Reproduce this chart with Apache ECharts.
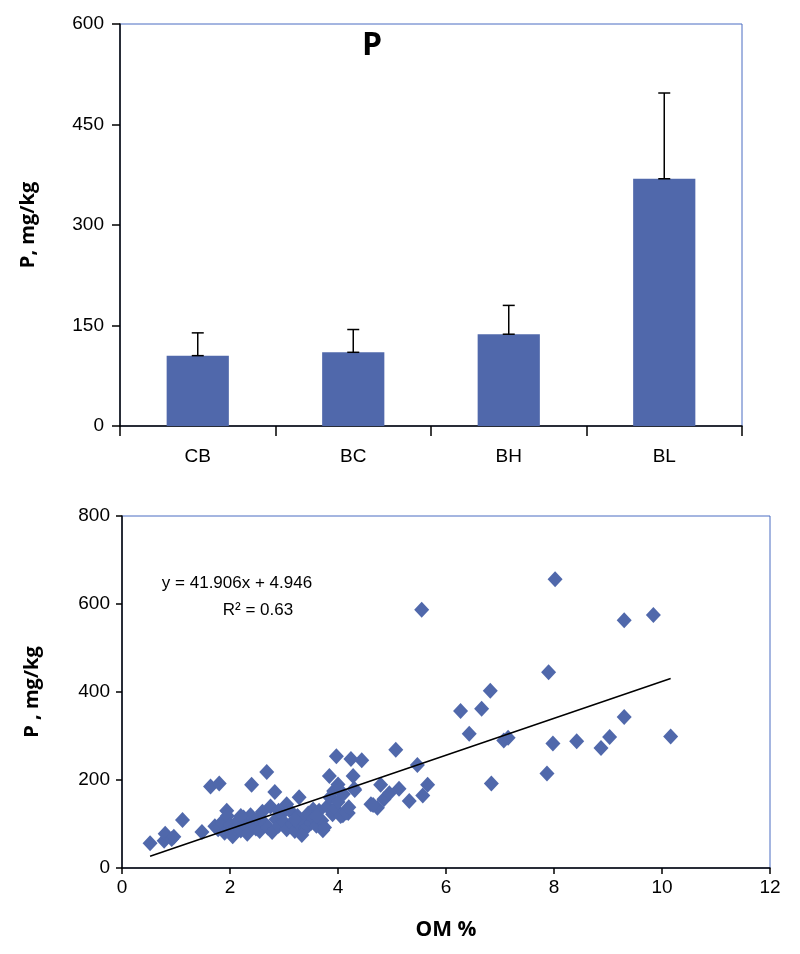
<!DOCTYPE html>
<html>
<head>
<meta charset="utf-8">
<script src="https://cdn.jsdelivr.net/npm/echarts@6/dist/echarts.min.js"></script>
<style>
html,body{margin:0;padding:0;background:#fff;}
#c{width:800px;height:954px;}
</style>
</head>
<body>
<div id="c"></div>
<script>
// ---- Bar chart data ----
const sites = ['CB', 'BC', 'BH', 'BL'];
const meanP = [105, 110, 137, 369];
const errP = [34, 34, 43, 128];
const barTicks = [0, 150, 300, 450, 600];

// ---- Scatter data (OM %, P mg/kg) ----
const omPct = [
  0.52, 0.78, 0.80, 0.92, 0.96, 1.12, 1.48, 1.64, 1.80, 2.40, 2.68, 2.83, 1.94, 3.28, 3.05,
  3.84, 3.97, 4.24, 4.44, 4.28, 5.07, 5.47, 5.55, 5.66, 5.57, 5.32, 5.13, 4.79, 4.61, 4.73,
  4.85, 4.95, 6.27, 6.43, 6.66, 6.82, 7.07, 7.15, 6.84, 8.02, 7.90, 7.98, 7.87, 8.42, 8.87,
  9.03, 9.30, 9.84, 9.30, 10.16, 4.31, 4.19, 4.09, 3.72, 3.54, 4.65,
  1.72, 1.78, 1.85, 1.90, 1.95, 2.00, 2.05, 2.10, 2.15, 2.20, 2.25, 2.30, 2.32, 2.38, 2.42,
  2.48, 2.50, 2.55, 2.60, 2.65, 2.70, 2.75, 2.78, 2.85, 2.90, 2.95, 3.00, 3.05, 3.10, 3.15,
  3.20, 3.25, 3.30, 3.35, 3.40, 3.45, 3.50, 3.55, 3.60, 3.65, 3.70, 3.75, 3.80, 3.85, 3.90,
  3.95, 4.00, 4.05, 4.10, 4.15, 4.20, 4.30, 3.92, 4.00, 3.60, 3.20, 2.90, 2.20, 3.33
];
const pMgKg = [
  56, 62, 78, 66, 71, 109, 82, 185, 192, 189, 218, 173, 130, 161, 145,
  209, 254, 248, 245, 209, 269, 234, 587, 189, 165, 152, 180, 189, 145, 137,
  156, 170, 357, 305, 362, 403, 290, 296, 192, 656, 445, 283, 215, 288, 273,
  298, 563, 575, 343, 299, 177, 125, 120, 86, 133, 143,
  95, 88, 104, 80, 118, 98, 72, 90, 108, 85, 115, 96, 78, 120, 102,
  90, 112, 84, 128, 100, 92, 140, 82, 110, 96, 122, 104, 88, 132, 100,
  84, 118, 95, 106, 90, 124, 102, 112, 96, 130, 108, 92, 140, 160, 122,
  135, 150, 118, 168, 126, 138, 180, 175, 190, 118, 110, 130, 118, 75
];
const trendSlope = 41.906;
const trendIntercept = 4.946;
const trendRange = [0.52, 10.16];
const omTicks = [0, 2, 4, 6, 8, 10, 12];
const pTicks = [0, 200, 400, 600, 800];

const scatterData = omPct.map((x, i) => [x, pMgKg[i]]);
const trendData = trendRange.map(x => [x, trendSlope * x + trendIntercept]);
const errData = sites.map((s, i) => [i, meanP[i], meanP[i] + errP[i]]);

const FONT = '"Liberation Sans", sans-serif';
const BOLD = '"Open Sans", "Liberation Sans", sans-serif';
const BLUE = '#5068ab';
const BORDER = '#4a6cc2';

const chart = echarts.init(document.getElementById('c'), null, {renderer: 'canvas'});
chart.setOption({
  backgroundColor: '#ffffff',
  animation: false,
  grid: [
    {left: 120, right: 58, top: 24, bottom: 528, show: true, borderColor: BORDER, borderWidth: 1},
    {left: 122, right: 30, top: 516, bottom: 86, show: true, borderColor: BORDER, borderWidth: 1}
  ],
  xAxis: [
    {
      type: 'category', gridIndex: 0, data: sites,
      axisLine: {lineStyle: {color: '#000', width: 1.5}},
      axisTick: {show: true, length: 10, lineStyle: {color: '#000', width: 1.5}},
      axisLabel: {color: '#000', fontSize: 19, fontFamily: FONT, margin: 21}
    },
    {
      type: 'value', gridIndex: 1, min: omTicks[0], max: omTicks[omTicks.length - 1], interval: 2,
      name: 'OM %', nameLocation: 'middle', nameGap: 52,
      nameTextStyle: {color: '#000', fontSize: 21, fontWeight: 'bold', fontFamily: BOLD},
      axisLine: {lineStyle: {color: '#000', width: 1.5}},
      axisTick: {show: true, length: 6, lineStyle: {color: '#000', width: 1.5}},
      axisLabel: {color: '#000', fontSize: 19, fontFamily: FONT, margin: 10},
      splitLine: {show: false}
    }
  ],
  yAxis: [
    {
      type: 'value', gridIndex: 0, min: barTicks[0], max: barTicks[barTicks.length - 1], interval: 150,
      name: 'P, mg/kg', nameLocation: 'middle', nameGap: 82,
      nameTextStyle: {color: '#000', fontSize: 20, fontWeight: 'bold', fontFamily: BOLD},
      axisLine: {show: true, lineStyle: {color: '#000', width: 1.5}},
      axisTick: {show: true, length: 8, lineStyle: {color: '#000', width: 1.5}},
      axisLabel: {color: '#000', fontSize: 19, fontFamily: FONT, margin: 16},
      splitLine: {show: false}
    },
    {
      type: 'value', gridIndex: 1, min: pTicks[0], max: pTicks[pTicks.length - 1], interval: 200,
      name: 'P , mg/kg', nameLocation: 'middle', nameGap: 80,
      nameTextStyle: {color: '#000', fontSize: 20, fontWeight: 'bold', fontFamily: BOLD},
      axisLine: {show: true, lineStyle: {color: '#000', width: 1.5}},
      axisTick: {show: true, length: 6, lineStyle: {color: '#000', width: 1.5}},
      axisLabel: {color: '#000', fontSize: 19, fontFamily: FONT, margin: 12},
      splitLine: {show: false}
    }
  ],
  graphic: [
    {type: 'text', left: 362, top: 30, style: {text: 'P', fontSize: 32, fontWeight: 'bold', fontFamily: BOLD, fill: '#000'}},
    {type: 'text', x: 237, y: 583, style: {text: 'y = 41.906x + 4.946', fontSize: 17, fontFamily: FONT, fill: '#000', align: 'center', verticalAlign: 'middle'}},
    {type: 'text', x: 258, y: 610, style: {text: 'R² = 0.63', fontSize: 17, fontFamily: FONT, fill: '#000', align: 'center', verticalAlign: 'middle'}}
  ],
  series: [
    {
      type: 'bar', xAxisIndex: 0, yAxisIndex: 0, data: meanP, barWidth: '40%',
      itemStyle: {color: BLUE}, silent: true
    },
    {
      type: 'custom', xAxisIndex: 0, yAxisIndex: 0, data: errData, silent: true, z: 5,
      encode: {x: 0, y: [1, 2]},
      renderItem: function (params, api) {
        const lo = api.coord([api.value(0), api.value(1)]);
        const hi = api.coord([api.value(0), api.value(2)]);
        const hw = 6;
        const st = {stroke: '#000', lineWidth: 1.5};
        return {
          type: 'group',
          children: [
            {type: 'line', shape: {x1: lo[0], y1: lo[1], x2: hi[0], y2: hi[1]}, style: st},
            {type: 'line', shape: {x1: hi[0] - hw, y1: hi[1], x2: hi[0] + hw, y2: hi[1]}, style: st},
            {type: 'line', shape: {x1: lo[0] - hw, y1: lo[1], x2: lo[0] + hw, y2: lo[1]}, style: st}
          ]
        };
      }
    },
    {
      type: 'scatter', xAxisIndex: 1, yAxisIndex: 1, data: scatterData,
      symbol: 'diamond', symbolSize: [15, 16],
      itemStyle: {color: BLUE, opacity: 1}, silent: true
    },
    {
      type: 'line', xAxisIndex: 1, yAxisIndex: 1, data: trendData,
      symbol: 'none', lineStyle: {color: '#000', width: 1.5}, silent: true, z: 4
    }
  ]
});
</script>
</body>
</html>
